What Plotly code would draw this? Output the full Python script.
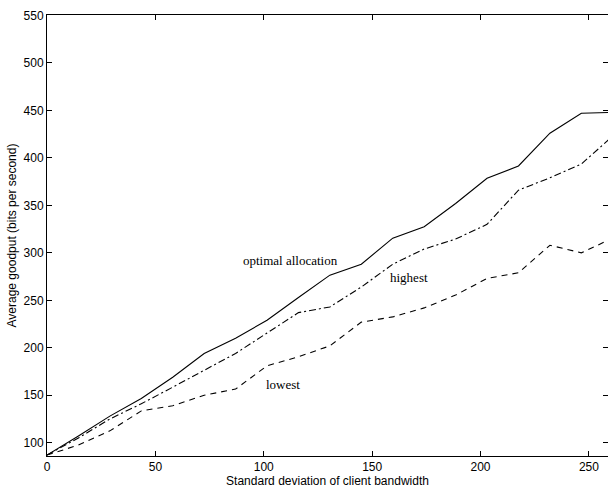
import plotly.graph_objects as go

# Standard deviation of client bandwidth (x values)
std_dev = [0, 14.5, 29, 43.5, 58, 72.5, 87, 101.5, 116, 130.5, 145,
           159.5, 174, 188.5, 203, 217.5, 232, 246.5, 261]

optimal_allocation = [87, 107, 128, 146.5, 169, 194, 210, 229, 253, 276.5, 288,
                      315.5, 327.5, 352, 378.5, 391.5, 426, 447, 448]
highest = [87, 105, 125, 141, 158.5, 176.5, 194, 215.5, 237, 243, 264,
           288, 304, 314.5, 330, 366, 379, 393.5, 423]
lowest = [87, 97.5, 112.5, 133.5, 139, 150, 156.5, 181, 190.5, 202, 227,
          232.5, 242, 255.5, 273, 279, 308, 300, 315.5]

series = [
    ("optimal allocation", optimal_allocation, "solid"),
    ("highest", highest, "7px,3px,2px,3px"),
    ("lowest", lowest, "6px,5px"),
]

labels = [
    ("optimal allocation", 112.5, 291.5),
    ("highest", 167, 274),
    ("lowest", 109, 161),
]

fig = go.Figure()
for name, vals, dash in series:
    fig.add_trace(go.Scatter(x=std_dev, y=vals, mode="lines", name=name,
                             line=dict(color="black", width=1.1, dash=dash)))

for text, x, y in labels:
    fig.add_annotation(x=x, y=y, text=text, showarrow=False,
                       font=dict(family="Liberation Serif", size=13, color="black"))

axis_common = dict(showline=True, linecolor="black", linewidth=1, mirror="ticks",
                   ticks="inside", ticklen=5, tickcolor="black", showgrid=False,
                   zeroline=False, automargin=False,
                   tickfont=dict(family="Liberation Sans", size=12, color="black"))

fig.update_xaxes(range=[0, 258.8], tickvals=[0, 50, 100, 150, 200, 250],
                 title=dict(text="Standard deviation of client bandwidth",
                            font=dict(family="Liberation Sans", size=12, color="black"),
                            standoff=2),
                 **axis_common)
fig.update_yaxes(range=[86, 550.5], tickvals=[100, 150, 200, 250, 300, 350, 400, 450, 500, 550],
                 title=dict(text="Average goodput (bits per second)",
                            font=dict(family="Liberation Sans", size=12, color="black"),
                            standoff=4),
                 **axis_common)

fig.update_layout(width=608, height=491, showlegend=False,
                  margin=dict(l=47, r=0, t=15, b=35),
                  plot_bgcolor="white", paper_bgcolor="white")

fig.write_html("out.html", config={"displayModeBar": False},
               post_script="document.body.style.margin='0';document.body.style.overflow='hidden';")
